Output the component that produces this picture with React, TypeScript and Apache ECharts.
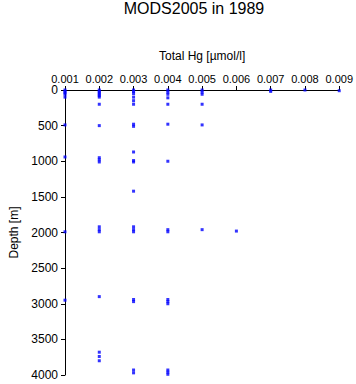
import React, { useEffect, useRef } from "react";
import * as echarts from "echarts";

const titleText = "MODS2005 in 1989";
const xAxisName = "Total Hg [µmol/l]";
const yAxisName = "Depth [m]";

// Total Hg levels (µmol/l) and the depths (m) sampled at each level
const hgLevels = [0.001, 0.002, 0.003, 0.004, 0.005, 0.006, 0.007, 0.008, 0.009];
const depthsAt001 = [0, 20, 40, 60, 100, 490, 940, 1990, 2950];
const depthsAt002 = [0, 20, 40, 60, 80, 100, 200, 500, 950, 980, 1010, 1920, 1960, 1990, 2900, 3680, 3740, 3800];
const depthsAt003 = [0, 20, 50, 100, 150, 200, 480, 510, 870, 990, 1010, 1420, 1920, 1960, 1990, 2940, 2970, 3930, 3970];
const depthsAt004 = [0, 30, 60, 110, 200, 480, 1000, 1960, 1990, 2940, 2970, 3000, 3930, 3960, 3990];
const depthsAt005 = [0, 30, 60, 200, 490, 1960];
const depthsAt006 = [1980];
const depthsAt007 = [0, 20];
const depthsAt008 = [0];
const depthsAt009 = [10];

const depthGroups = [
  depthsAt001, depthsAt002, depthsAt003, depthsAt004, depthsAt005,
  depthsAt006, depthsAt007, depthsAt008, depthsAt009,
];

export default function App() {
  const ref = useRef<HTMLDivElement>(null);
  useEffect(() => {
    document.body.style.margin = "0";
    if (!ref.current) return;
    const chart = echarts.init(ref.current, undefined, { renderer: "svg" });
    const points: number[][] = [];
    depthGroups.forEach((ds, i) => ds.forEach((d) => points.push([hgLevels[i], d])));
    const font = "'Liberation Sans', Arial, sans-serif";
    chart.setOption({
      animation: false,
      backgroundColor: "#ffffff",
      title: {
        text: titleText,
        left: 194,
        top: 0,
        padding: 0,
        textAlign: "center",
        textStyle: { fontFamily: font, fontSize: 16, fontWeight: "normal", color: "#000" },
      },
      grid: { left: 54, right: 16, top: 90, bottom: 9, containLabel: false },
      xAxis: {
        type: "value",
        position: "top",
        min: 0.001,
        max: 0.009,
        interval: 0.001,
        name: xAxisName,
        nameLocation: "middle",
        nameGap: 28,
        nameTextStyle: { fontFamily: font, fontSize: 12, color: "#000" },
        axisLine: { show: true, onZero: false, lineStyle: { color: "#000", width: 1 } },
        axisTick: { show: true, length: 4, lineStyle: { color: "#000" } },
        axisLabel: {
          fontFamily: font, fontSize: 11, color: "#000", margin: 6,
          formatter: (v: number) => v.toFixed(3),
        },
        splitLine: { show: false },
      },
      yAxis: {
        type: "value",
        inverse: true,
        min: 0,
        max: 4000,
        interval: 500,
        name: yAxisName,
        nameLocation: "middle",
        nameGap: 45,
        nameTextStyle: { fontFamily: font, fontSize: 12, color: "#000" },
        axisLine: { show: true, onZero: false, lineStyle: { color: "#000", width: 1 } },
        axisTick: { show: true, length: 4, lineStyle: { color: "#000" } },
        axisLabel: {
          fontFamily: font, fontSize: 12, color: "#000", margin: 7,
          formatter: (v: number) => String(v),
        },
        splitLine: { show: false },
      },
      series: [
        {
          type: "scatter",
          data: points,
          symbol: "rect",
          symbolSize: [3, 3],
          itemStyle: { color: "#0000ff" },
        },
      ],
    });
    return () => chart.dispose();
  }, []);
  return <div ref={ref} style={{ width: 356, height: 384 }} />;
}
